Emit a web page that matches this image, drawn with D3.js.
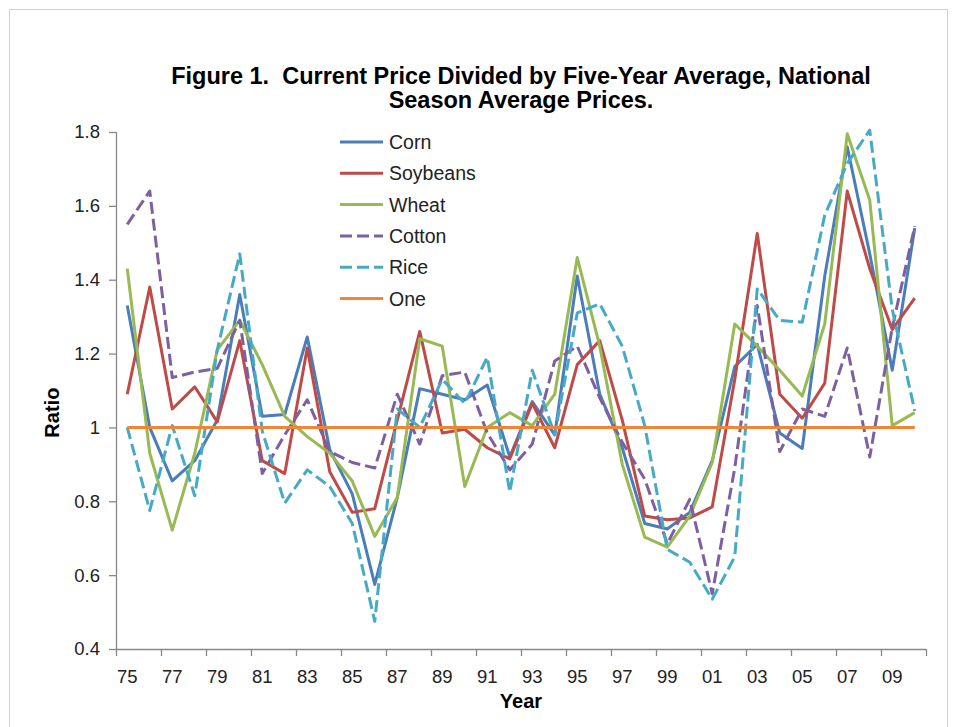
<!DOCTYPE html>
<html>
<head>
<meta charset="utf-8">
<script src="https://cdn.jsdelivr.net/npm/d3@7"></script>
<style>
  body { margin: 0; background: #fff; }
  text { font-family: "Liberation Sans", Arial, sans-serif; }
</style>
</head>
<body>
<svg id="chart"></svg>
<script>
// chart size, same as the window
var width = 954;
var height = 727;
var margin = {top: 132, right: 28, bottom: 78, left: 116};
var w = width - margin.left - margin.right;
var h = height - margin.top - margin.bottom;

// data, 1975 - 2010
var years = d3.range(1975, 2011);
var corn = [1.33, 1.00, 0.855, 0.91, 1.02, 1.36, 1.03, 1.035, 1.245, 0.94, 0.82, 0.575, 0.81, 1.105, 1.09, 1.075, 1.115, 0.92,
            1.07, 0.98, 1.41, 1.09, 0.945, 0.74, 0.725, 0.77, 0.91, 1.165, 1.225, 0.985, 0.943, 1.41, 1.76, 1.47, 1.155, 1.54];
var soybeans = [1.09, 1.38, 1.05, 1.11, 1.015, 1.235, 0.91, 0.875, 1.215, 0.88, 0.77, 0.78, 1.02, 1.26, 0.985, 0.995, 0.945, 0.915,
            1.065, 0.945, 1.17, 1.235, 1.02, 0.76, 0.75, 0.755, 0.785, 1.13, 1.525, 1.09, 1.025, 1.12, 1.64, 1.43, 1.265, 1.35];
var wheat = [1.43, 0.93, 0.722, 0.93, 1.21, 1.29, 1.17, 1.03, 0.975, 0.93, 0.855, 0.705, 0.81, 1.24, 1.22, 0.84, 1.0, 1.04,
            1.005, 1.09, 1.46, 1.22, 0.9, 0.703, 0.676, 0.76, 0.905, 1.28, 1.22, 1.155, 1.085, 1.28, 1.795, 1.615, 1.005, 1.04];
var cotton = [1.55, 1.64, 1.135, 1.15, 1.16, 1.29, 0.875, 0.98, 1.075, 0.935, 0.905, 0.89, 1.09, 0.955, 1.14, 1.15, 0.985, 0.885,
            0.955, 1.18, 1.22, 1.08, 0.96, 0.86, 0.685, 0.805, 0.55, 0.89, 1.33, 0.935, 1.05, 1.03, 1.215, 0.92, 1.27, 1.545];
var rice = [1.0, 0.775, 1.005, 0.815, 1.21, 1.47, 0.99, 0.795, 0.885, 0.84, 0.74, 0.475, 1.05, 1.0, 1.13, 1.065, 1.19, 0.825,
            1.155, 0.98, 1.31, 1.335, 1.22, 1.005, 0.67, 0.635, 0.535, 0.65, 1.375, 1.29, 1.285, 1.575, 1.715, 1.805, 1.32, 1.045];
var one = years.map(function() { return 1; });
var yTicks = [0.4, 0.6, 0.8, 1, 1.2, 1.4, 1.6, 1.8];

var series = [
    {name: "Corn", values: corn, color: "#4a7dba", dash: null},
    {name: "Soybeans", values: soybeans, color: "#be4b48", dash: null},
    {name: "Wheat", values: wheat, color: "#98b954", dash: null},
    {name: "Cotton", values: cotton, color: "#7d60a0", dash: "12,5"},
    {name: "Rice", values: rice, color: "#46aac5", dash: "12,5"},
    {name: "One", values: one, color: "#ef8535", dash: null}
];

var svg = d3.select("#chart")
    .attr("width", width)
    .attr("height", height);

svg.append("rect")
    .attr("width", width).attr("height", height)
    .style("fill", "#fff");

// outer frame
svg.append("rect")
    .attr("x", 9.5).attr("y", 9.5)
    .attr("width", 938).attr("height", 730)
    .style("fill", "none")
    .style("stroke", "#d0d0d0")
    .style("stroke-width", 1);

// title (keep the double space after "Figure 1.")
var title = svg.append("text")
    .attr("text-anchor", "middle")
    .style("white-space", "pre")
    .style("font-weight", "bold")
    .style("font-size", "23.5px")
    .style("fill", "#000");
title.append("tspan").attr("x", margin.left + w / 2).attr("y", 84)
    .text("Figure 1.  Current Price Divided by Five-Year Average, National");
title.append("tspan").attr("x", margin.left + w / 2).attr("y", 108)
    .text("Season Average Prices.");

var chart = svg.append("g")
    .attr("transform", "translate(" + margin.left + "," + margin.top + ")");

// category axis, one band per year
var x = d3.scaleBand()
    .domain(years)
    .range([0, w]);

var y = d3.scaleLinear()
    .domain([0.4, 1.8])
    .range([h, 0]);

var cx = function(d, i) { return x(years[i]) + x.bandwidth() / 2; };

// y axis
var yAxis = d3.axisLeft(y)
    .tickValues(yTicks)
    .tickSize(7)
    .tickPadding(9)
    .tickFormat(function(d) { return d === 1 ? "1" : d3.format(".1f")(d); });

var gy = chart.append("g").call(yAxis);
gy.select(".domain").attr("d", "M0.5," + h + "V0");

// x axis: ticks between every second category, labels on the odd ones
var edges = d3.range(0, years.length + 1, 2);
var gx = chart.append("g").attr("transform", "translate(0," + h + ")");
gx.append("line")
    .attr("x1", 0).attr("x2", w)
    .attr("y1", 0.5).attr("y2", 0.5);
gx.selectAll(".tk").data(edges).enter().append("line")
    .attr("class", "tk")
    .attr("x1", function(d) { return d * x.step() + 0.5; })
    .attr("x2", function(d) { return d * x.step() + 0.5; })
    .attr("y1", 0).attr("y2", 7);
gx.selectAll(".lb").data(years.filter(function(d, i) { return i % 2 === 0; })).enter().append("text")
    .attr("class", "lb")
    .attr("x", function(d) { return x(d) + x.bandwidth() / 2; })
    .attr("y", 21)
    .attr("dy", "0.71em")
    .attr("text-anchor", "middle")
    .text(function(d) { return String(d).slice(2); });

[gx, gy].forEach(function(g) {
    g.selectAll("line, path").style("stroke", "#888").style("stroke-width", 1.3);
    g.selectAll("text").style("font-size", "18.5px").style("fill", "#222")
        .style("font-family", "'Liberation Sans', Arial, sans-serif");
});

// axis titles
chart.append("text")
    .attr("transform", "translate(-57," + y(1.04) + ") rotate(-90)")
    .attr("text-anchor", "middle")
    .style("font-weight", "bold")
    .style("font-size", "20px")
    .text("Ratio");

chart.append("text")
    .attr("x", w / 2)
    .attr("y", h + 59)
    .attr("text-anchor", "middle")
    .style("font-weight", "bold")
    .style("font-size", "20px")
    .text("Year");

// lines, "One" last so it sits on top like the reference
var line = d3.line()
    .x(cx)
    .y(function(d) { return y(d); });

series.forEach(function(s) {
    chart.append("path")
        .datum(s.values)
        .attr("d", line)
        .style("fill", "none")
        .style("stroke", s.color)
        .style("stroke-width", 3)
        .style("stroke-linejoin", "round")
        .style("stroke-dasharray", s.dash);
});

// legend
var legend = svg.append("g")
    .attr("transform", "translate(340,142)");

var item = legend.selectAll("g").data(series).enter().append("g")
    .attr("transform", function(d, i) { return "translate(0," + (i * 31.3) + ")"; });

item.append("line")
    .attr("x1", 0).attr("x2", 43)
    .style("stroke", function(d) { return d.color; })
    .style("stroke-width", 3)
    .style("stroke-dasharray", function(d) { return d.dash; });

item.append("text")
    .attr("x", 49)
    .attr("dy", "0.36em")
    .style("font-size", "19.5px")
    .style("fill", "#222")
    .text(function(d) { return d.name; });
</script>
</body>
</html>
